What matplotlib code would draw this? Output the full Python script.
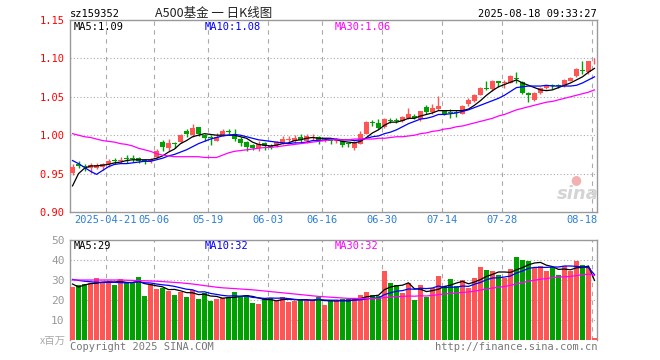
import matplotlib
matplotlib.use("Agg")
import matplotlib.pyplot as plt

# daily K-line, 2025-04-11 .. 2025-08-18 (88 trading days)
open_ = [0.951, 0.962, 0.960, 0.957, 0.957, 0.959, 0.962, 0.967, 0.966, 0.970,
         0.970, 0.970, 0.967, 0.966, 0.972, 0.991, 0.983, 0.989, 0.991, 1.006,
         1.000, 1.011, 1.000, 0.998, 0.992, 1.000, 1.005, 1.002, 0.995, 0.991,
         0.987, 0.983, 0.990, 0.986, 0.987, 0.990, 0.994, 0.993, 0.998, 0.993,
         0.997, 0.998, 0.993, 0.994, 0.992, 0.993, 0.989, 0.983, 0.989, 1.002,
         1.017, 1.016, 1.011, 1.020, 1.020, 1.018, 1.022, 1.025, 1.021, 1.037,
         1.030, 1.034, 1.032, 1.030, 1.030, 1.028, 1.040, 1.044, 1.052, 1.061,
         1.060, 1.070, 1.068, 1.068, 1.074, 1.069, 1.055, 1.046, 1.055, 1.061,
         1.065, 1.065, 1.064, 1.071, 1.077, 1.085, 1.082, 1.096]
close = [0.958, 0.960, 0.958, 0.961, 0.961, 0.963, 0.967, 0.966, 0.968, 0.969,
         0.969, 0.966, 0.966, 0.968, 0.980, 0.985, 0.990, 0.988, 1.000, 1.001,
         1.009, 1.002, 0.997, 0.996, 0.998, 1.005, 1.004, 0.995, 0.990, 0.985,
         0.983, 0.989, 0.986, 0.985, 0.991, 0.995, 0.995, 0.997, 0.994, 0.999,
         0.998, 0.994, 0.994, 0.993, 0.993, 0.987, 0.988, 0.991, 1.002, 1.017,
         1.016, 1.010, 1.021, 1.019, 1.019, 1.024, 1.027, 1.023, 1.031, 1.030,
         1.036, 1.038, 1.027, 1.029, 1.029, 1.038, 1.046, 1.052, 1.062, 1.060,
         1.071, 1.068, 1.069, 1.077, 1.073, 1.055, 1.052, 1.055, 1.061, 1.065,
         1.064, 1.064, 1.072, 1.074, 1.086, 1.084, 1.096, 1.097]
high = [0.963, 0.967, 0.962, 0.964, 0.964, 0.964, 0.969, 0.970, 0.972, 0.974,
        0.974, 0.971, 0.969, 0.970, 0.982, 0.994, 0.995, 0.991, 1.001, 1.008,
        1.014, 1.011, 1.001, 1.000, 1.003, 1.008, 1.008, 1.008, 0.998, 0.992,
        0.988, 0.992, 0.991, 0.988, 0.993, 0.999, 0.999, 1.000, 1.001, 1.002,
        1.002, 0.999, 0.997, 0.995, 0.997, 0.994, 0.990, 0.993, 1.005, 1.018,
        1.020, 1.021, 1.022, 1.022, 1.022, 1.025, 1.036, 1.027, 1.032, 1.039,
        1.041, 1.051, 1.033, 1.034, 1.033, 1.039, 1.048, 1.054, 1.063, 1.070,
        1.072, 1.071, 1.072, 1.078, 1.082, 1.071, 1.056, 1.056, 1.063, 1.066,
        1.067, 1.067, 1.073, 1.076, 1.087, 1.096, 1.097, 1.100]
low = [0.948, 0.957, 0.953, 0.951, 0.956, 0.955, 0.958, 0.962, 0.964, 0.964,
       0.965, 0.964, 0.962, 0.964, 0.970, 0.980, 0.980, 0.983, 0.990, 0.998,
       0.998, 0.999, 0.993, 0.987, 0.992, 0.999, 1.001, 0.992, 0.986, 0.980,
       0.981, 0.980, 0.981, 0.982, 0.985, 0.989, 0.991, 0.990, 0.990, 0.990,
       0.994, 0.989, 0.991, 0.988, 0.990, 0.985, 0.984, 0.981, 0.988, 1.001,
       1.012, 1.008, 1.009, 1.016, 1.016, 1.017, 1.021, 1.021, 1.019, 1.028,
       1.028, 1.033, 1.026, 1.022, 1.024, 1.027, 1.038, 1.043, 1.052, 1.059,
       1.058, 1.063, 1.061, 1.068, 1.068, 1.054, 1.043, 1.045, 1.054, 1.060,
       1.060, 1.062, 1.063, 1.070, 1.076, 1.080, 1.080, 1.093]

ma5 = [0.934, 0.950, 0.957, 0.960, 0.960, 0.961, 0.962, 0.964, 0.965, 0.967,
       0.968, 0.968, 0.968, 0.968, 0.970, 0.973, 0.978, 0.982, 0.989, 0.993,
       0.998, 1.000, 1.002, 1.001, 1.000, 1.000, 1.000, 1.000, 0.998, 0.996,
       0.991, 0.988, 0.987, 0.986, 0.987, 0.989, 0.990, 0.993, 0.994, 0.996,
       0.997, 0.996, 0.996, 0.996, 0.994, 0.992, 0.991, 0.990, 0.992, 0.997,
       1.003, 1.007, 1.013, 1.017, 1.017, 1.019, 1.022, 1.022, 1.025, 1.027,
       1.029, 1.032, 1.032, 1.032, 1.032, 1.032, 1.034, 1.039, 1.045, 1.052,
       1.058, 1.063, 1.066, 1.069, 1.072, 1.068, 1.065, 1.062, 1.059, 1.058,
       1.059, 1.062, 1.065, 1.068, 1.072, 1.076, 1.082, 1.087]
ma10 = [0.967, 0.963, 0.958, 0.953, 0.949, 0.954, 0.959, 0.962, 0.963, 0.963,
        0.964, 0.965, 0.966, 0.966, 0.968, 0.970, 0.973, 0.975, 0.978, 0.981,
        0.985, 0.989, 0.992, 0.995, 0.997, 0.999, 1.000, 1.001, 1.000, 0.998,
        0.996, 0.994, 0.993, 0.992, 0.991, 0.990, 0.989, 0.990, 0.990, 0.991,
        0.993, 0.993, 0.994, 0.995, 0.995, 0.994, 0.994, 0.993, 0.994, 0.996,
        0.998, 0.999, 1.002, 1.004, 1.007, 1.011, 1.015, 1.018, 1.021, 1.022,
        1.024, 1.027, 1.027, 1.028, 1.029, 1.031, 1.033, 1.036, 1.039, 1.042,
        1.045, 1.048, 1.052, 1.057, 1.062, 1.063, 1.064, 1.064, 1.064, 1.065,
        1.064, 1.064, 1.064, 1.064, 1.065, 1.068, 1.072, 1.076]
ma30 = [1.002, 1.000, 0.998, 0.997, 0.995, 0.993, 0.992, 0.991, 0.989, 0.988,
        0.986, 0.983, 0.981, 0.979, 0.976, 0.974, 0.973, 0.972, 0.972, 0.972,
        0.972, 0.972, 0.971, 0.971, 0.971, 0.974, 0.977, 0.979, 0.980, 0.981,
        0.982, 0.983, 0.984, 0.984, 0.985, 0.986, 0.987, 0.988, 0.989, 0.990,
        0.991, 0.992, 0.993, 0.994, 0.994, 0.994, 0.994, 0.995, 0.995, 0.995,
        0.995, 0.996, 0.996, 0.997, 0.998, 0.998, 0.999, 1.000, 1.002, 1.003,
        1.005, 1.006, 1.008, 1.009, 1.011, 1.012, 1.014, 1.016, 1.018, 1.020,
        1.022, 1.025, 1.027, 1.030, 1.033, 1.035, 1.037, 1.039, 1.041, 1.043,
        1.044, 1.046, 1.048, 1.050, 1.052, 1.054, 1.056, 1.059]

# volume, millions
volume = [26.7, 27.5, 28.0, 28.7, 31.2, 29.2, 28.3, 27.5, 30.5, 28.7,
          28.3, 31.5, 22.0, 27.8, 25.7, 25.8, 24.7, 22.5, 24.2, 21.5,
          25.0, 20.5, 23.3, 19.5, 20.5, 20.8, 21.7, 24.2, 21.7, 22.5,
          18.7, 18.0, 20.8, 20.8, 19.5, 21.7, 19.2, 19.7, 20.5, 19.7,
          19.7, 21.3, 17.5, 19.7, 19.5, 20.5, 20.5, 20.5, 22.5, 24.2,
          22.5, 22.2, 34.7, 28.7, 27.5, 23.7, 28.3, 20.0, 27.5, 21.7,
          25.8, 32.0, 27.0, 30.5, 27.0, 30.0, 26.2, 31.2, 36.7, 35.0,
          34.7, 32.5, 31.2, 35.5, 41.7, 40.0, 39.7, 35.8, 37.0, 34.5,
          36.7, 32.5, 37.0, 34.7, 39.7, 37.5, 36.2, 0.8]
vol_ma5 = [28.0, 26.5, 27.5, 28.2, 28.4, 28.9, 29.1, 29.0, 29.3, 28.8,
           28.7, 29.3, 28.2, 27.7, 27.1, 26.6, 25.2, 25.3, 24.6, 23.7,
           23.6, 22.7, 22.9, 22.0, 21.8, 20.9, 21.2, 21.3, 21.8, 22.2,
           21.8, 21.0, 20.3, 20.2, 19.6, 20.2, 20.4, 20.2, 20.1, 20.2,
           19.8, 20.2, 19.7, 19.6, 19.5, 19.7, 19.5, 20.1, 20.7, 21.6,
           22.0, 22.4, 25.2, 26.5, 27.1, 27.4, 28.6, 25.6, 25.4, 24.2,
           24.7, 25.4, 26.8, 27.4, 28.5, 29.3, 28.1, 29.0, 30.2, 31.8,
           32.8, 34.0, 34.0, 33.8, 35.1, 36.2, 37.6, 38.5, 38.8, 37.4,
           36.7, 35.3, 35.5, 35.1, 36.1, 36.3, 37.0, 29.8]
vol_ma10 = [30.3, 29.8, 29.4, 29.1, 28.9, 28.8, 28.8, 28.8, 28.7, 28.6,
            28.8, 29.2, 28.6, 28.5, 28.0, 27.6, 27.3, 26.8, 26.1, 25.4,
            25.1, 24.0, 24.1, 23.3, 22.8, 22.3, 22.0, 22.1, 21.9, 22.0,
            21.3, 21.1, 20.8, 21.0, 20.9, 21.0, 20.7, 20.3, 20.1, 19.9,
            20.0, 20.3, 20.0, 19.9, 19.9, 19.7, 19.9, 19.9, 20.1, 20.6,
            20.9, 21.0, 22.7, 23.6, 24.4, 24.7, 25.5, 25.4, 25.9, 25.7,
            26.0, 27.0, 26.2, 26.4, 26.4, 27.0, 26.8, 27.9, 28.8, 30.1,
            31.0, 31.1, 31.5, 32.0, 33.5, 34.5, 35.8, 36.3, 36.3, 36.3,
            36.5, 36.5, 37.0, 37.0, 36.8, 36.5, 36.2, 32.7]
vol_ma30 = [30.0, 30.0, 30.0, 30.0, 30.0, 30.0, 30.0, 30.0, 30.0, 29.9,
            29.8, 29.7, 29.6, 29.5, 29.4, 29.2, 29.0, 28.8, 28.6, 28.3,
            28.0, 27.6, 27.2, 26.8, 26.4, 26.1, 25.9, 25.7, 25.5, 25.3,
            25.1, 24.8, 24.5, 24.2, 23.9, 23.6, 23.3, 23.0, 22.7, 22.4,
            22.1, 21.8, 21.6, 21.4, 21.2, 21.0, 20.8, 20.8, 20.7, 20.8,
            20.7, 20.8, 21.2, 21.5, 21.7, 21.8, 22.0, 21.9, 22.1, 22.0,
            22.3, 22.7, 23.0, 23.3, 23.5, 23.8, 24.0, 24.4, 25.0, 25.5,
            26.0, 26.3, 26.8, 27.3, 28.1, 28.7, 29.4, 29.9, 30.4, 30.7,
            31.2, 31.5, 31.6, 31.8, 32.2, 32.7, 32.9, 32.3]

tick_idx = [6, 14, 23, 33, 42, 52, 62, 72, 87]
tick_labels = ["2025-04-21", "05-06", "05-19", "06-03", "06-16",
               "06-30", "07-14", "07-28", "08-18"]
price_ticks = [0.90, 0.95, 1.00, 1.05, 1.10, 1.15]
vol_ticks = [10, 20, 30, 40, 50]

UP, DOWN = "#ff5555", "#00a000"
GRID = "#aaaaaa"
MONO = "DejaVu Sans Mono"
CJK = ["Noto Sans CJK SC", "DejaVu Sans"]
W, H = 660, 360


def px(x, y):
    return x / W, 1 - y / H


fig = plt.figure(figsize=(6.6, 3.6), dpi=100)
ax = fig.add_axes([70 / W, 1 - 212 / H, 527 / W, 192 / H])
axv = fig.add_axes([70 / W, 1 - 340 / H, 527 / W, 100 / H])

n = len(close)
xs = list(range(n))
colors = [UP if c >= o else DOWN for o, c in zip(open_, close)]

# candles
ax.vlines(xs, low, high, colors=colors, linewidth=1.0, zorder=3)
bottoms = [min(o, c) for o, c in zip(open_, close)]
heights = [max(abs(c - o), 0.0012) for o, c in zip(open_, close)]
ax.bar(xs, heights, bottom=bottoms, width=0.72, color=colors, linewidth=0, zorder=4)
ax.plot(xs, ma5, color="black", lw=0.9, zorder=5)
ax.plot(xs, ma10, color="#0000ff", lw=0.9, zorder=5)
ax.plot(xs, ma30, color="#ff00ff", lw=0.9, zorder=5)

# volume
axv.bar(xs, volume, width=0.84, color=colors, linewidth=0, zorder=3)
axv.plot(xs, vol_ma5, color="black", lw=0.9, zorder=5)
axv.plot(xs, vol_ma10, color="#0000ff", lw=0.9, zorder=5)
axv.plot(xs, vol_ma30, color="#ff00ff", lw=0.9, zorder=5)

for a in (ax, axv):
    a.set_xlim(-0.42, n - 0.58)
    a.set_xticks([])
    for s in a.spines.values():
        s.set_color("#999999")
        s.set_linewidth(1.0)
    for i in tick_idx:
        a.axvline(i - 0.42, color=GRID, lw=0.8, ls=(0, (4, 4)), zorder=1)
    a.tick_params(axis="y", length=0, pad=4)
axv.spines["bottom"].set_visible(False)

ax.set_ylim(0.90, 1.15)
ax.set_yticks(price_ticks)
ax.set_yticklabels([f"{v:.2f}" for v in price_ticks], color="#ff0000",
                   fontsize=7.5, family=MONO)
for v in price_ticks[1:-1]:
    ax.axhline(v, color=GRID, lw=0.8, ls=(0, (1, 2)), zorder=1)

axv.set_ylim(0, 50)
axv.set_yticks(vol_ticks)
axv.set_yticklabels([str(v) for v in vol_ticks], color="#999999",
                    fontsize=8, family=MONO)
for v in vol_ticks[:-1]:
    axv.axhline(v, color=GRID, lw=0.8, ls=(0, (1, 2)), zorder=1)

# date labels under the price panel
for i, lab in zip(tick_idx, tick_labels):
    ha = "right" if i == tick_idx[-1] else "center"
    xpos = i + 0.5 if ha == "right" else i - 0.42
    ax.text(xpos, -0.018, lab, transform=ax.get_xaxis_transform(),
            ha=ha, va="top", color="#2a7fd4", fontsize=7.5, family=MONO)

# headers
fig.text(*px(70, 14), "sz159352", ha="left", va="center", fontsize=7.5, family=MONO)
fig.text(*px(214, 14), "A500基金 一 日K线图", ha="center", va="center",
         fontsize=9, family=CJK, color="#222222")
fig.text(*px(597, 14), "2025-08-18 09:33:27", ha="right", va="center",
         fontsize=7.5, family=MONO)

fig.text(*px(74, 27), "MA5:1.09", ha="left", va="center", fontsize=7.5, family=MONO)
fig.text(*px(205, 27), "MA10:1.08", ha="left", va="center", fontsize=7.5,
         family=MONO, color="#0000ff")
fig.text(*px(335, 27), "MA30:1.06", ha="left", va="center", fontsize=7.5,
         family=MONO, color="#ff00ff")
fig.text(*px(74, 246), "MA5:29", ha="left", va="center", fontsize=7.5, family=MONO)
fig.text(*px(205, 246), "MA10:32", ha="left", va="center", fontsize=7.5,
         family=MONO, color="#0000ff")
fig.text(*px(335, 246), "MA30:32", ha="left", va="center", fontsize=7.5,
         family=MONO, color="#ff00ff")

fig.text(*px(66, 341), "x百万", ha="right", va="center", fontsize=7.5,
         family=CJK, color="#aaaaaa")
fig.text(*px(70, 347), "Copyright 2025 SINA.COM", ha="left", va="center",
         fontsize=7.5, family=MONO, color="#777777")
fig.text(*px(597, 347), "http://finance.sina.com.cn", ha="right", va="center",
         fontsize=7.5, family=MONO, color="#777777")

# sina watermark
fig.text(*px(578, 194), "sina", ha="center", va="center", fontsize=13,
         fontstyle="italic", fontweight="bold", color="#d4d4d4")
fig.text(*px(576, 180), "●", ha="center", va="center", fontsize=9, color="#f2b0b0")

fig.savefig("out.png", dpi=100)
plt.close(fig)
